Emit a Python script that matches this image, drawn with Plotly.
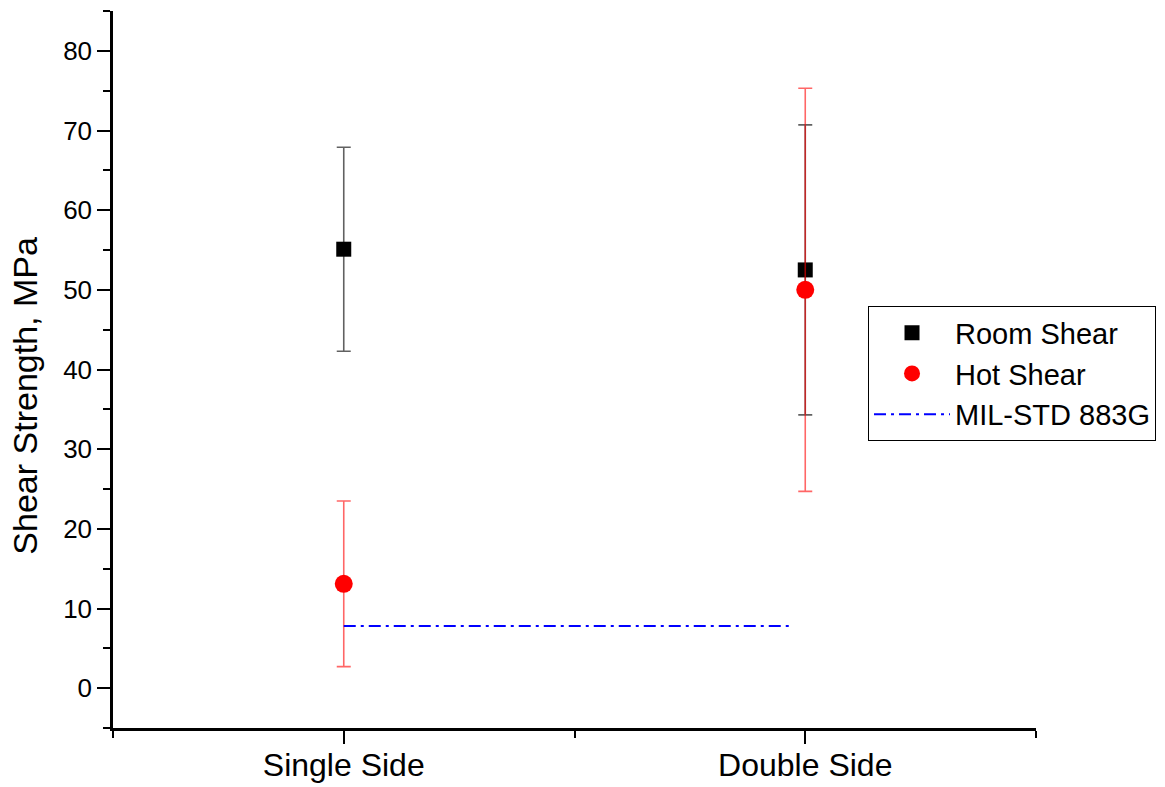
import plotly.graph_objects as go

# Sample categories and their positions on the x axis
categories = ["Single Side", "Double Side"]
positions = [1, 2]

# Shear strength (MPa) with symmetric error
room_shear = [55.1, 52.5]
room_err = [12.8, 18.2]
hot_shear = [13.1, 50.0]
hot_err = [10.4, 25.3]

# MIL-STD 883G minimum requirement line
mil_x = [1.0, 1.97]
mil_y = [7.8, 7.8]

FONT = "Arial, Liberation Sans, sans-serif"

fig = go.Figure()

fig.add_trace(go.Scatter(
    x=positions, y=room_shear, mode="markers", name="Room Shear",
    marker=dict(symbol="square", size=15, color="black"),
    error_y=dict(type="data", array=room_err, visible=True,
                 color="rgba(0,0,0,0.62)", thickness=1.6, width=7),
))

fig.add_trace(go.Scatter(
    x=positions, y=hot_shear, mode="markers", name="Hot Shear",
    marker=dict(symbol="circle", size=18, color="red"),
    error_y=dict(type="data", array=hot_err, visible=True,
                 color="rgba(255,0,0,0.6)", thickness=1.6, width=7),
))

fig.add_trace(go.Scatter(
    x=mil_x, y=mil_y, mode="lines", name="MIL-STD 883G",
    line=dict(color="blue", width=2, dash="12px,5px,3px,5px"),
))

fig.update_layout(
    width=1165, height=787,
    margin=dict(l=113, r=129, t=11, b=59, autoexpand=False),
    paper_bgcolor="white", plot_bgcolor="white",
    font=dict(family=FONT, color="black"),
    legend=dict(
        x=0.818, y=0.588, xanchor="left", yanchor="top",
        bordercolor="black", borderwidth=1, bgcolor="white",
        font=dict(size=29, family=FONT, color="black"),
        itemwidth=76,
    ),
    annotations=[dict(
        text="Shear Strength, MPa", textangle=-90,
        xref="paper", yref="paper", x=-0.095, y=0.464,
        xanchor="center", yanchor="middle", showarrow=False,
        font=dict(size=34, family=FONT, color="black"),
    )],
)

fig.update_xaxes(
    range=[0.5, 2.5], tickvals=positions, ticktext=categories,
    showline=True, linecolor="black", linewidth=2.5,
    ticks="outside", ticklen=13, tickwidth=2, tickcolor="black",
    tickfont=dict(size=32, family=FONT, color="black"),
    ticklabelstandoff=-6,
    minor=dict(tickvals=[0.5, 1.5, 2.5], ticks="outside", ticklen=7,
               tickwidth=2, tickcolor="black"),
    showgrid=False, zeroline=False, automargin=False,
)

fig.update_yaxes(
    range=[-5, 85], tickvals=[0, 10, 20, 30, 40, 50, 60, 70, 80],
    showline=True, linecolor="black", linewidth=2.5,
    ticks="outside", ticklen=13, tickwidth=2, tickcolor="black",
    tickfont=dict(size=26, family=FONT, color="black"),
    minor=dict(dtick=5, tick0=-5, ticks="outside", ticklen=7,
               tickwidth=2, tickcolor="black"),
    showgrid=False, zeroline=False, automargin=False,
)

fig.write_html("out.html")
